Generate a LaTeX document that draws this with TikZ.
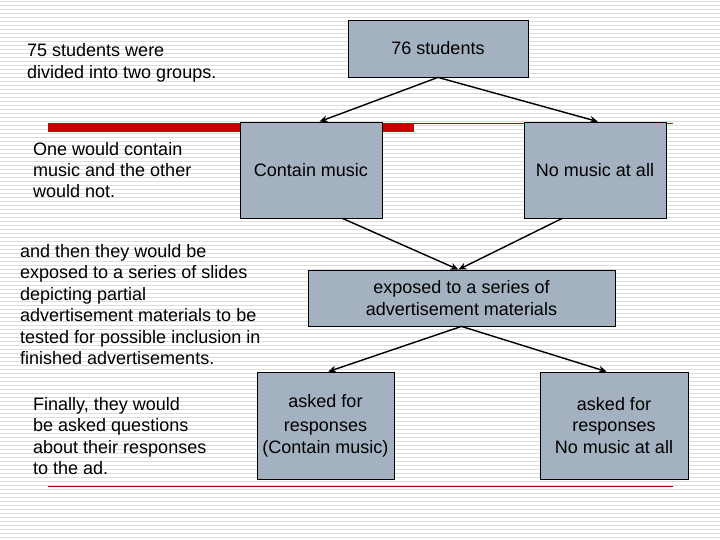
\documentclass[tikz,border=0pt]{standalone}
\usepackage{fontspec}
\setmainfont{Liberation Sans}
\usepackage{xcolor}
\usetikzlibrary{arrows.meta, positioning, calc}

\definecolor{boxgray}{HTML}{A3B1C0}
\definecolor{stripegray}{HTML}{DCDCDC}
\definecolor{barred}{HTML}{CC0000}

\tikzset{
  stagebox/.style={draw=black, fill=boxgray, line width=0.8pt, align=center, inner sep=0pt},
  note/.style={align=left, anchor=base west, inner sep=0pt},
  flow/.style={-{Stealth[length=8pt, width=7pt]}, line width=1.4pt}
}

\begin{document}
\begin{tikzpicture}[x=1pt, y=-1pt, font=\fontsize{18}{21.5}\selectfont]
\useasboundingbox (0,0) rectangle (720,540);
% Background stripes
\fill[white] (0,0) rectangle (720,540);
\foreach \i in {0,...,134} {
    \draw[stripegray, line width=1pt] (0, {\i*4+1.5}) -- (720, {\i*4+1.5});
}

% Red rules
\fill[barred] (48,123) rectangle (414,132);
\draw[barred, line width=0.8pt] (414,123.4) -- (673,123.4);
\draw[barred!80!black, line width=0.8pt] (48,486) -- (673,486);

% Boxes
\node[stagebox, minimum width=180pt, minimum height=57pt] (all) at (438,48.5) {76 students};
\node[stagebox, minimum width=142pt, minimum height=96pt] (music) at (311,170) {Contain music};
\node[stagebox, minimum width=142pt, minimum height=96pt] (nomusic) at (595,170) {No music at all};
\node[stagebox, minimum width=307pt, minimum height=56pt] (exposed) at (461.5,298) {exposed to a series of\\advertisement materials};
\node[stagebox, minimum width=137pt, minimum height=107pt] (askmusic) at (325.5,425.5) {asked for\\[3pt]responses\\(Contain music)};
\node[stagebox, minimum width=148pt, minimum height=107pt] (asknomusic) at (614,425.5) {asked for\\responses\\No music at all};

% Connectors
\draw[flow] (all.south) -- ($(music.north west)!0.56!(music.north east)$);
\draw[flow] (all.south) -- ($(nomusic.north west)!0.52!(nomusic.north east)$);
\draw[flow] ($(music.south west)!0.72!(music.south east)$) -- ($(exposed.north west)!0.49!(exposed.north east)$);
\draw[flow] ($(nomusic.south west)!0.27!(nomusic.south east)$) -- ($(exposed.north west)!0.49!(exposed.north east)$);
\draw[flow] ($(exposed.south west)!0.5!(exposed.south east)$) -- ($(askmusic.north west)!0.52!(askmusic.north east)$);
\draw[flow] ($(exposed.south west)!0.5!(exposed.south east)$) -- ($(asknomusic.north west)!0.45!(asknomusic.north east)$);

% Notes (base = last line)
\node[note] (n1) at (27,78.5) {75 students were\\divided into two groups.};
\node[note] (n2) at (33,198) {One would contain\\music and the other\\would not.};
\node[note] (n3) at (20,364.5) {and then they would be\\exposed to a series of slides\\depicting partial\\advertisement materials to be\\tested for possible inclusion in\\finished advertisements.};
\node[note] (n4) at (33,474.5) {Finally, they would\\be asked questions\\about their responses\\to the ad.};
\end{tikzpicture}
\end{document}
